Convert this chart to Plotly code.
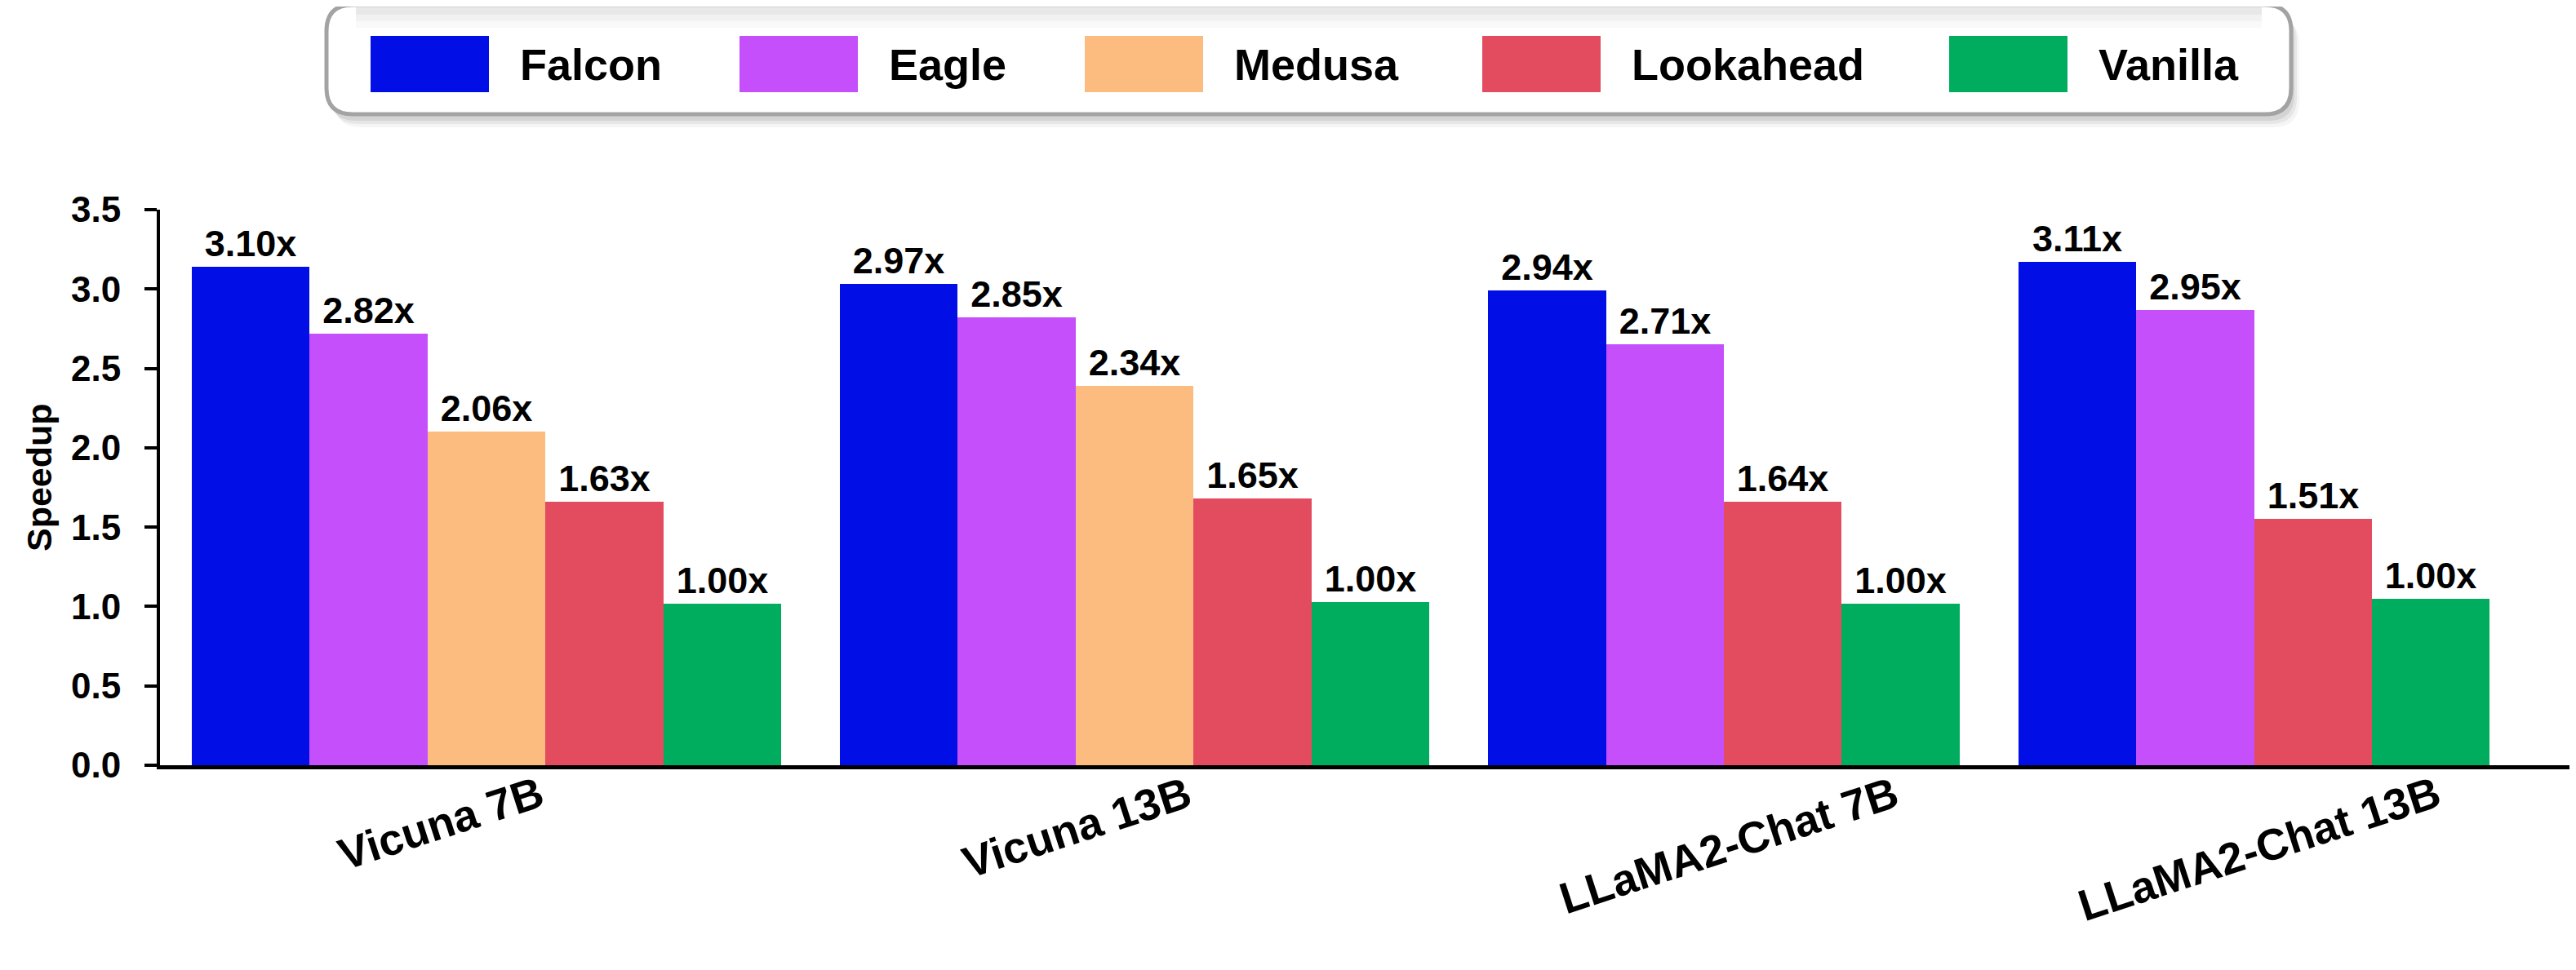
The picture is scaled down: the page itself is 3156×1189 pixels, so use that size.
import plotly.graph_objects as go

# ---------------- data ----------------
categories = ["Vicuna 7B", "Vicuna 13B", "LLaMA2-Chat 7B", "LLaMA2-Chat 13B"]
series_names = ["Falcon", "Eagle", "Medusa", "Lookahead", "Vanilla"]

# bar heights as drawn in the picture
falcon = [3.14, 3.03, 2.99, 3.17]
eagle = [2.72, 2.82, 2.65, 2.87]
medusa = [2.10, 2.39, None, None]
lookahead = [1.66, 1.68, 1.66, 1.55]
vanilla = [1.02, 1.03, 1.02, 1.05]

# speedup labels printed above the bars
falcon_lbl = [3.10, 2.97, 2.94, 3.11]
eagle_lbl = [2.82, 2.85, 2.71, 2.95]
medusa_lbl = [2.06, 2.34, None, None]
lookahead_lbl = [1.63, 1.65, 1.64, 1.51]
vanilla_lbl = [1.00, 1.00, 1.00, 1.00]

y_ticks = [0.0, 0.5, 1.0, 1.5, 2.0, 2.5, 3.0, 3.5]

# ---------------- style ----------------
colors = ["#020EE6", "#C44FFB", "#FDBC7F", "#E34C5F", "#00AD5F"]
FONT = "Arial, Liberation Sans, Helvetica, sans-serif"
OFF = 8                      # page body margin
W, H = 3156 - OFF, 1189 - OFF
ML, MR, MT, MB = 196 - OFF, 6, 257 - OFF, 251
GROUP_GAP = 0.5
X_RANGE = [-0.27, 20.19]

values = [falcon, eagle, medusa, lookahead, vanilla]
labels = [falcon_lbl, eagle_lbl, medusa_lbl, lookahead_lbl, vanilla_lbl]

# slot positions: bars of a group are packed side by side, groups separated by a gap
pos = [[None] * len(categories) for _ in series_names]
centers = []
cursor = 0.0
for ci in range(len(categories)):
    xs = []
    for si in range(len(series_names)):
        if values[si][ci] is not None:
            pos[si][ci] = cursor + 0.5
            xs.append(cursor + 0.5)
            cursor += 1.0
    centers.append(sum(xs) / len(xs))
    cursor += GROUP_GAP

fig = go.Figure()
for si, name in enumerate(series_names):
    xs, ys, ts = [], [], []
    for ci in range(len(categories)):
        if values[si][ci] is None:
            continue
        xs.append(pos[si][ci])
        ys.append(values[si][ci])
        ts.append(f"{labels[si][ci]:.2f}x")
    fig.add_trace(go.Bar(
        x=xs, y=ys, name=name, width=1.0,
        marker=dict(color=colors[si], line=dict(width=0)),
        text=ts, textposition="outside", constraintext="none",
        textfont=dict(family=FONT, size=45, color="black", weight="bold"),
        cliponaxis=False, showlegend=False,
    ))

PW = W - ML - MR
PH = H - MT - MB


# helpers: reference-picture pixel -> paper coordinate
def px_x(p):
    return (p - OFF - ML) / PW


def px_y(p):
    return (H - MB - (p - OFF)) / PH


def rrect(x0, y0, x1, y1, r):
    X = px_x
    Y = px_y
    return (
        f"M {X(x0 + r)},{Y(y0)} L {X(x1 - r)},{Y(y0)} "
        f"Q {X(x1)},{Y(y0)} {X(x1)},{Y(y0 + r)} "
        f"L {X(x1)},{Y(y1 - r)} Q {X(x1)},{Y(y1)} {X(x1 - r)},{Y(y1)} "
        f"L {X(x0 + r)},{Y(y1)} Q {X(x0)},{Y(y1)} {X(x0)},{Y(y1 - r)} "
        f"L {X(x0)},{Y(y0 + r)} Q {X(x0)},{Y(y0)} {X(x0 + r)},{Y(y0)} Z"
    )


shapes = []
annotations = []

# legend box (drawn by hand to mimic the large swatches)
LB = (400, 6, 2807, 140)
R = 32
for dx, dy, op in [(10, 16, 0.04), (7, 12, 0.06), (4, 8, 0.08)]:
    shapes.append(dict(type="path", xref="paper", yref="paper",
                       path=rrect(LB[0] + dx, LB[1] + dy, LB[2] + dx, LB[3] + dy, R),
                       fillcolor=f"rgba(0,0,0,{op})", line=dict(width=0), layer="below"))
shapes.append(dict(type="path", xref="paper", yref="paper",
                   path=rrect(*LB, R), fillcolor="white",
                   line=dict(color="#A3A3A3", width=5), layer="below"))
for y0, y1, op in [(9, 18, 0.09), (18, 26, 0.05), (26, 34, 0.025)]:
    shapes.append(dict(type="rect", xref="paper", yref="paper",
                       x0=px_x(LB[0] + R + 4), x1=px_x(LB[2] - R - 4), y0=px_y(y1), y1=px_y(y0),
                       fillcolor=f"rgba(0,0,0,{op})", line=dict(width=0), layer="below"))

legend_x = [454, 906, 1329, 1816, 2388]
SW_W, SW_T, SW_B = 145, 44, 113
for si, name in enumerate(series_names):
    x0 = legend_x[si]
    shapes.append(dict(type="rect", xref="paper", yref="paper",
                       x0=px_x(x0), x1=px_x(x0 + SW_W), y0=px_y(SW_B), y1=px_y(SW_T),
                       fillcolor=colors[si], line=dict(width=0)))
    annotations.append(dict(text=name, xref="paper", yref="paper",
                            x=px_x(x0 + SW_W + 36), y=px_y((SW_T + SW_B) / 2),
                            xanchor="left", yanchor="middle", showarrow=False,
                            font=dict(family=FONT, size=54, color="black", weight="bold")))

# rotated category labels
label_dx = [79, 79, 223, 238]
for ci, cat in enumerate(categories):
    annotations.append(dict(text=cat, xref="x", yref="y", x=centers[ci], y=0,
                            xanchor="right", yanchor="top", xshift=label_dx[ci], yshift=0,
                            textangle=-18, showarrow=False,
                            font=dict(family=FONT, size=54, color="black", weight="bold")))

# y axis title
annotations.append(dict(text="Speedup", xref="paper", yref="paper", x=0, y=px_y(585),
                        xshift=-148, xanchor="center", yanchor="middle", textangle=-90,
                        showarrow=False,
                        font=dict(family=FONT, size=43, color="black", weight="bold")))

fig.update_layout(
    width=W, height=H,
    margin=dict(l=ML, r=MR, t=MT, b=MB, pad=0),
    paper_bgcolor="white", plot_bgcolor="white",
    barmode="overlay", bargap=0,
    shapes=shapes, annotations=annotations,
    showlegend=False,
)
fig.update_xaxes(range=X_RANGE, showgrid=False, zeroline=False, showticklabels=False,
                 ticks="", showline=True, linecolor="black", linewidth=5)
fig.update_yaxes(range=[0, 3.5], tickvals=y_ticks, ticktext=[f"{v:.1f}" for v in y_ticks],
                 showgrid=False, zeroline=False, showline=True, linecolor="black", linewidth=4,
                 ticks="outside", ticklen=15, tickwidth=4, tickcolor="black",
                 ticklabelstandoff=20,
                 tickfont=dict(family=FONT, size=44, color="black", weight="bold"))

fig.write_html("out.html")
